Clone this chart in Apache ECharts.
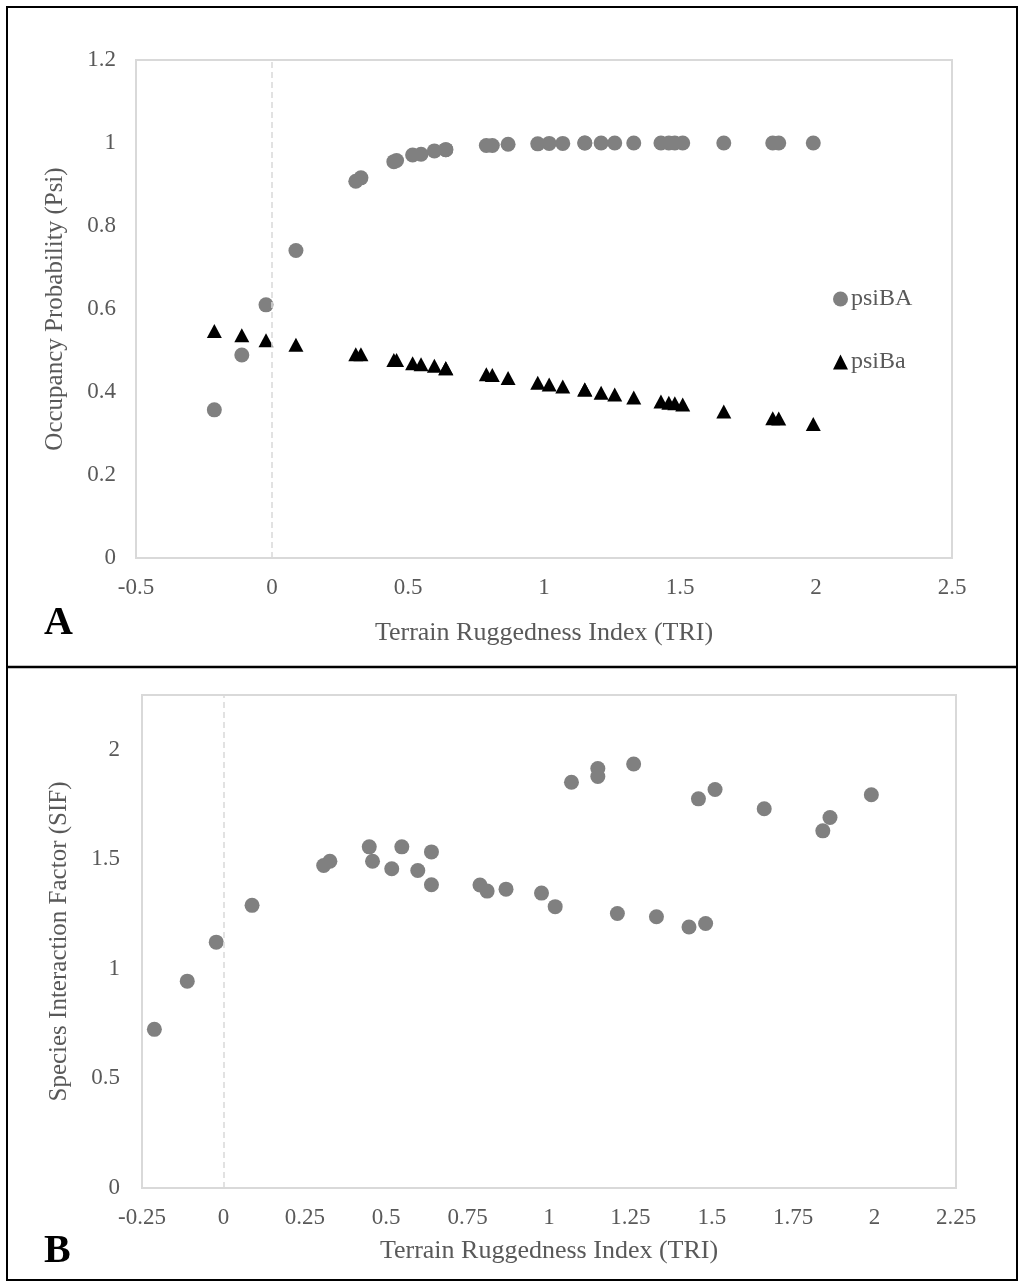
<!DOCTYPE html>
<html>
<head>
<meta charset="utf-8">
<script src="https://cdn.jsdelivr.net/npm/echarts@6/dist/echarts.min.js"></script>
<style>
  html, body { margin: 0; padding: 0; background: #fff; }
  #chart { width: 1018px; height: 1281px; }
</style>
</head>
<body>
<div id="chart"></div>
<script>
// Terrain Ruggedness Index of each site (shared by both panels)
const tri = [-0.212, -0.111, -0.022, 0.088, 0.308, 0.327, 0.448, 0.458, 0.517, 0.548,
  0.597, 0.639, 0.639, 0.788, 0.810, 0.868, 0.977, 1.019, 1.069, 1.150,
  1.150, 1.210, 1.260, 1.330, 1.430, 1.459, 1.481, 1.510, 1.661, 1.841,
  1.863, 1.990];

// panel A
const psiBA = [0.357, 0.489, 0.610, 0.741, 0.908, 0.916, 0.955, 0.958, 0.971, 0.973,
  0.981, 0.984, 0.984, 0.994, 0.994, 0.997, 0.998, 0.999, 0.999, 1.0,
  1.0, 1.0, 1.0, 1.0, 1.0, 1.0, 1.0, 1.0, 1.0, 1.0,
  1.0, 1.0];
const psiBa = [0.547, 0.537, 0.525, 0.514, 0.491, 0.491, 0.477, 0.477, 0.469, 0.467,
  0.463, 0.457, 0.457, 0.443, 0.441, 0.434, 0.422, 0.418, 0.413, 0.406,
  0.406, 0.398, 0.394, 0.387, 0.377, 0.374, 0.373, 0.370, 0.353, 0.337,
  0.336, 0.323];

// panel B
const sif = [0.724, 0.944, 1.122, 1.290, 1.472, 1.491, 1.557, 1.491, 1.457, 1.557,
  1.449, 1.534, 1.384, 1.383, 1.355, 1.364, 1.346, 1.284, 1.852, 1.914,
  1.878, 1.253, 1.935, 1.238, 1.191, 1.776, 1.207, 1.819, 1.731, 1.630,
  1.691, 1.795];

const seriesNames = ['psiBA', 'psiBa'];
const xTitle = 'Terrain Ruggedness Index (TRI)';
const yTitleA = 'Occupancy Probability (Psi)';
const yTitleB = 'Species Interaction Factor (SIF)';

const FONT = '"Liberation Serif", "Times New Roman", serif';
const TXT = '#595959';
const GRIDLINE = '#d9d9d9';

const pairs = (xs, ys) => xs.map((x, i) => [x, ys[i]]);

const zeroLine = {
  silent: true,
  symbol: 'none',
  label: { show: false },
  lineStyle: { color: GRIDLINE, type: [6, 4], width: 1.5 },
  data: [{ xAxis: 0 }]
};

const baseAxis = {
  axisLine: { show: false },
  axisTick: { show: false },
  splitLine: { show: false },
  axisLabel: { color: TXT, fontFamily: FONT, fontSize: 23 },
  nameTextStyle: { color: TXT, fontFamily: FONT, fontSize: 25 },
  nameLocation: 'middle'
};

const chart = echarts.init(document.getElementById('chart'), null, { renderer: 'canvas' });

chart.setOption({
  animation: false,
  backgroundColor: '#fff',
  grid: [
    { left: 136, top: 60, width: 816, height: 498, show: true, borderColor: GRIDLINE, borderWidth: 2 },
    { left: 142, top: 695, width: 814, height: 493, show: true, borderColor: GRIDLINE, borderWidth: 2 }
  ],
  xAxis: [
    Object.assign({}, baseAxis, {
      gridIndex: 0, type: 'value', min: -0.5, max: 2.5, interval: 0.5,
      name: xTitle, nameGap: 62,
      axisLabel: Object.assign({}, baseAxis.axisLabel, { margin: 18 }),
      nameTextStyle: Object.assign({}, baseAxis.nameTextStyle, { fontSize: 26 })
    }),
    Object.assign({}, baseAxis, {
      gridIndex: 1, type: 'value', min: -0.25, max: 2.25, interval: 0.25,
      name: xTitle, nameGap: 50,
      axisLabel: Object.assign({}, baseAxis.axisLabel, { margin: 18 }),
      nameTextStyle: Object.assign({}, baseAxis.nameTextStyle, { fontSize: 26 })
    })
  ],
  yAxis: [
    Object.assign({}, baseAxis, {
      gridIndex: 0, type: 'value', min: 0, max: 1.2, interval: 0.2,
      name: yTitleA, nameGap: 68,
      axisLabel: Object.assign({}, baseAxis.axisLabel, { margin: 20 })
    }),
    Object.assign({}, baseAxis, {
      gridIndex: 1, type: 'value', min: 0, max: 2.25, interval: 0.5,
      name: yTitleB, nameGap: 70,
      axisLabel: Object.assign({}, baseAxis.axisLabel, { margin: 22, showMaxLabel: false })
    })
  ],
  legend: {
    orient: 'vertical',
    left: 828,
    top: 282,
    itemGap: 39,
    itemWidth: 15,
    itemHeight: 15,
    itemStyle: { opacity: 1 },
    textStyle: { color: TXT, fontFamily: FONT, fontSize: 24, padding: [0, 0, 0, -2] },
    data: [
      { name: seriesNames[0], icon: 'circle' },
      { name: seriesNames[1], icon: 'triangle' }
    ]
  },
  series: [
    {
      name: seriesNames[0], type: 'scatter', xAxisIndex: 0, yAxisIndex: 0,
      symbol: 'circle', symbolSize: 15,
      itemStyle: { color: '#808080', opacity: 1 },
      data: pairs(tri, psiBA),
      markLine: zeroLine,
      z: 3
    },
    {
      name: seriesNames[1], type: 'scatter', xAxisIndex: 0, yAxisIndex: 0,
      symbol: 'triangle', symbolSize: [15, 14],
      itemStyle: { color: '#000', opacity: 1 },
      data: pairs(tri, psiBa),
      z: 3
    },
    {
      name: 'SIF', type: 'scatter', xAxisIndex: 1, yAxisIndex: 1,
      symbol: 'circle', symbolSize: 15,
      itemStyle: { color: '#808080', opacity: 1 },
      data: pairs(tri, sif),
      markLine: zeroLine,
      z: 3
    }
  ],
  graphic: [
    {
      type: 'rect', silent: true,
      shape: { x: 7, y: 7, width: 1010, height: 1273 },
      style: { fill: 'none', stroke: '#000', lineWidth: 2 }
    },
    {
      type: 'line', silent: true,
      shape: { x1: 7, y1: 667, x2: 1018, y2: 667 },
      style: { stroke: '#000', lineWidth: 2.5 }
    },
    {
      type: 'text', silent: true,
      style: { text: 'A', x: 44, y: 624, font: 'bold 40px ' + FONT, fill: '#000', textVerticalAlign: 'middle' }
    },
    {
      type: 'text', silent: true,
      style: { text: 'B', x: 44, y: 1252, font: 'bold 40px ' + FONT, fill: '#000', textVerticalAlign: 'middle' }
    }
  ]
});
</script>
</body>
</html>
